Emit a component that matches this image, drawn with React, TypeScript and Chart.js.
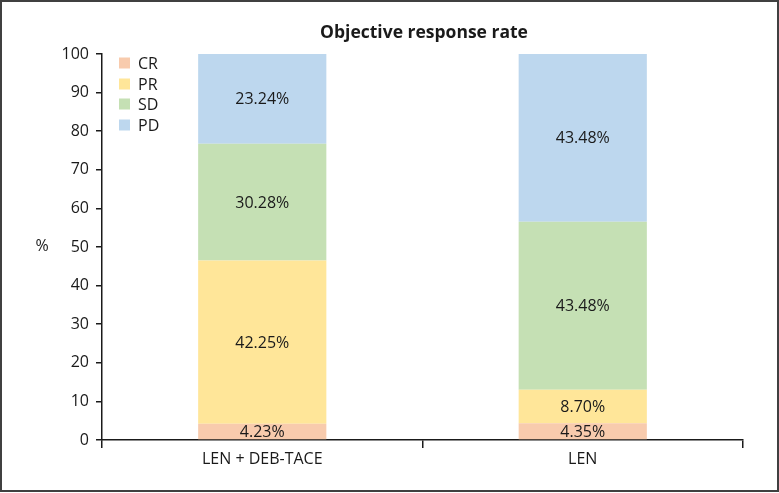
import React, { useEffect, useRef } from "react";
import { Chart, registerables } from "chart.js";

Chart.register(...registerables);

const categories = ["LEN + DEB-TACE", "LEN"];
const seriesNames = ["CR", "PR", "SD", "PD"];
const crValues = [4.23, 4.35];
const prValues = [42.25, 8.7];
const sdValues = [30.28, 43.48];
const pdValues = [23.24, 43.48];
const yTicks = [0, 10, 20, 30, 40, 50, 60, 70, 80, 90, 100];
const colors = ["#F8CBAD", "#FFE699", "#C5E0B4", "#BDD7EE"];
const titleText = "Objective response rate";
const yTitle = "%";

const FONT = "'Open Sans', 'Noto Sans', sans-serif";
const TEXT = "#1a1a1a";
const AXIS = "#1a1a1a";

export default function App() {
  const ref = useRef<HTMLCanvasElement | null>(null);

  useEffect(() => {
    document.body.style.margin = "0";
    const canvas = ref.current;
    if (!canvas) return;

    const values = [crValues, prValues, sdValues, pdValues];

    const overlay = {
      id: "overlay",
      afterDatasetsDraw(chart: any) {
        const ctx = chart.ctx;
        ctx.save();
        ctx.fillStyle = TEXT;
        ctx.font = `16px ${FONT}`;
        ctx.textAlign = "center";
        ctx.textBaseline = "middle";
        chart.data.datasets.forEach((ds: any, di: number) => {
          const meta = chart.getDatasetMeta(di);
          meta.data.forEach((el: any, i: number) => {
            const v = ds.data[i];
            const p = el.getCenterPoint();
            ctx.fillText(v.toFixed(2) + "%", p.x, p.y + 1);
          });
        });
        ctx.restore();
      },
      afterDraw(chart: any) {
        const ctx = chart.ctx;
        ctx.save();
        // border
        ctx.strokeStyle = "#404040";
        ctx.lineWidth = 2;
        ctx.strokeRect(1, 1, 777, 490);
        // title
        ctx.fillStyle = TEXT;
        ctx.font = `bold 17.5px ${FONT}`;
        ctx.textAlign = "center";
        ctx.textBaseline = "middle";
        ctx.fillText(titleText, 424, 33);
        // y title
        ctx.font = `16px ${FONT}`;
        ctx.fillText(yTitle, 42, 246);
        // legend
        const rows = [63, 84, 104, 125];
        seriesNames.forEach((name, i) => {
          ctx.fillStyle = colors[i];
          ctx.fillRect(119, rows[i] - 5.5, 11, 11);
          ctx.fillStyle = TEXT;
          ctx.textAlign = "left";
          ctx.fillText(name, 138, rows[i] + 1);
        });
        ctx.restore();
      },
    };

    const chart = new Chart(canvas, {
      type: "bar",
      data: {
        labels: categories,
        datasets: seriesNames.map((name, i) => ({
          label: name,
          data: values[i],
          backgroundColor: colors[i],
          borderWidth: 0,
          barPercentage: 0.4,
          categoryPercentage: 1,
        })),
      },
      options: {
        responsive: false,
        animation: false,
        devicePixelRatio: 1,
        layout: { padding: { left: 0, right: 36, top: 54, bottom: 0 } },
        plugins: {
          legend: { display: false },
          title: { display: false },
          tooltip: { enabled: false },
        },
        scales: {
          x: {
            stacked: true,
            afterFit: (s: any) => {
              s.height = 53;
            },
            grid: {
              display: true,
              offset: true,
              drawOnChartArea: false,
              drawTicks: true,
              tickLength: 8,
              color: AXIS,
              lineWidth: 1.5,
            },
            border: { display: true, color: AXIS, width: 1.5 },
            ticks: {
              color: TEXT,
              font: { family: FONT, size: 16 },
              padding: 2,
            },
          },
          y: {
            stacked: true,
            min: 0,
            max: 100,
            afterFit: (s: any) => {
              s.width = 102;
            },
            afterBuildTicks: (s: any) => {
              s.ticks = yTicks.map((v) => ({ value: v }));
            },
            grid: {
              display: true,
              drawOnChartArea: false,
              drawTicks: true,
              tickLength: 6,
              color: AXIS,
              lineWidth: 1.5,
            },
            border: { display: true, color: AXIS, width: 1.5 },
            ticks: {
              color: TEXT,
              font: { family: FONT, size: 16 },
              padding: 7,
            },
          },
        },
      },
      plugins: [overlay],
    } as any);

    return () => chart.destroy();
  }, []);

  return (
    <div style={{ width: 779, height: 493 }}>
      <canvas ref={ref} width={779} height={493} style={{ display: "block" }} />
    </div>
  );
}
